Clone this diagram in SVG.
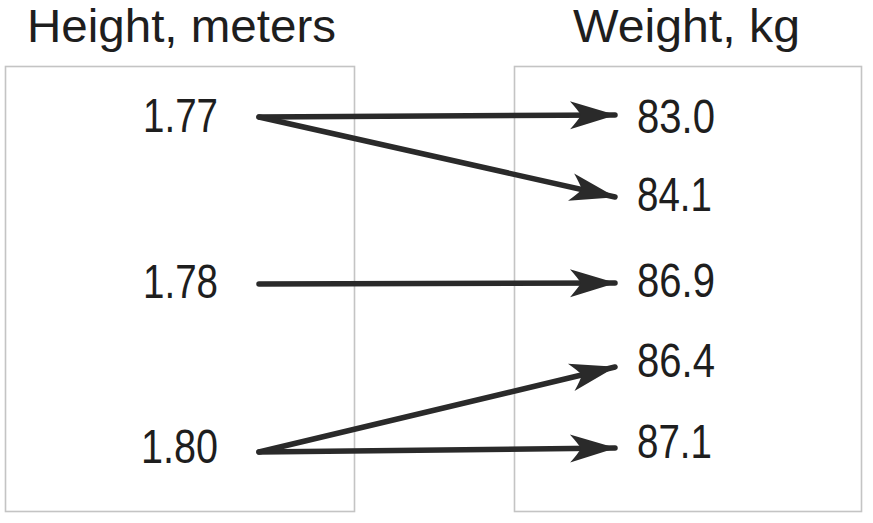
<svg xmlns="http://www.w3.org/2000/svg" width="873" height="523" viewBox="0 0 873 523">
<style>
.box{fill:#fff;stroke:#c4c4c4;stroke-width:1.6}
.t{font-family:"Liberation Sans",Arial,sans-serif;fill:#1e1e1e}
.title{font-size:46px}
.num{font-size:49px}
.c{stroke:#2a2a2a;stroke-width:5.5;stroke-linecap:round;fill:none;marker-end:url(#ah)}
</style>
<defs>
<marker id="ah" markerUnits="userSpaceOnUse" viewBox="-48 -16 50 32" refX="0" refY="0" markerWidth="50" markerHeight="32" orient="auto">
<path d="M1,0 L-45,-14 Q-37,-5 -34,0 Q-37,5 -45,14 Z" fill="#2a2a2a"/>
</marker>
</defs>
<rect width="873" height="523" fill="#fff"/>
<g id="title-height"><text class="t title" x="27" y="42" textLength="309" lengthAdjust="spacingAndGlyphs">Height, meters</text></g>
<g id="title-weight"><text class="t title" x="573" y="42" textLength="227" lengthAdjust="spacingAndGlyphs">Weight, kg</text></g>
<g id="box-height"><rect class="box" x="5.5" y="66.5" width="349" height="445"/></g>
<g id="box-weight"><rect class="box" x="514.5" y="66.5" width="347" height="445"/></g>
<g id="h177"><text class="t num" x="143" y="132" textLength="75" lengthAdjust="spacingAndGlyphs">1.77</text></g>
<g id="h178"><text class="t num" x="143" y="298" textLength="75" lengthAdjust="spacingAndGlyphs">1.78</text></g>
<g id="h180"><text class="t num" x="141" y="463" textLength="77" lengthAdjust="spacingAndGlyphs">1.80</text></g>
<g id="w830"><text class="t num" x="637" y="133" textLength="78" lengthAdjust="spacingAndGlyphs">83.0</text></g>
<g id="w841"><text class="t num" x="637" y="211" textLength="75" lengthAdjust="spacingAndGlyphs">84.1</text></g>
<g id="w869"><text class="t num" x="637" y="297" textLength="78" lengthAdjust="spacingAndGlyphs">86.9</text></g>
<g id="w864"><text class="t num" x="637" y="377" textLength="78" lengthAdjust="spacingAndGlyphs">86.4</text></g>
<g id="w871"><text class="t num" x="637" y="458" textLength="75" lengthAdjust="spacingAndGlyphs">87.1</text></g>
<g id="connectors">
<line class="c" x1="259" y1="117" x2="615" y2="115"/>
<line class="c" x1="259" y1="117" x2="615" y2="197"/>
<line class="c" x1="259" y1="284" x2="615" y2="283"/>
<line class="c" x1="259" y1="452" x2="615" y2="367"/>
<line class="c" x1="259" y1="452" x2="615" y2="448"/>
</g>
</svg>
